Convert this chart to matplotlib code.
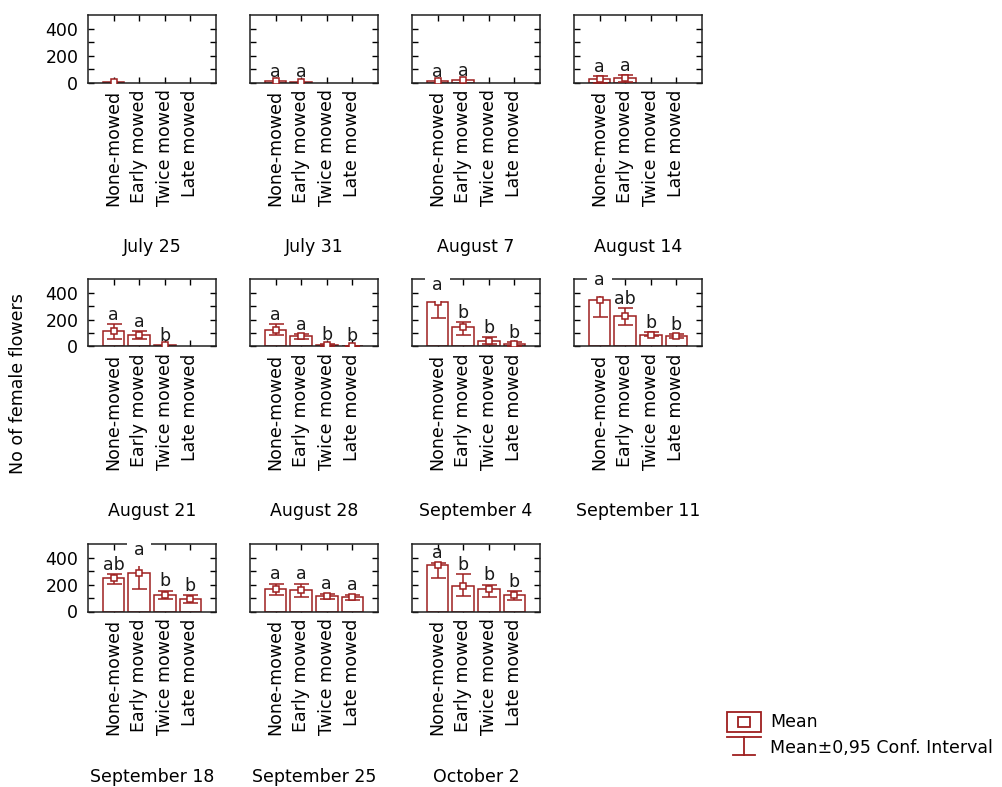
import numpy as np
import matplotlib
matplotlib.use("Agg")
import matplotlib.pyplot as plt
from matplotlib.patches import Rectangle
from matplotlib.lines import Line2D

nan = np.nan

dates = ["July 25", "July 31", "August 7", "August 14",
         "August 21", "August 28", "September 4", "September 11",
         "September 18", "September 25", "October 2"]
treatments = ["None-mowed", "Early mowed", "Twice mowed", "Late mowed"]

# mean number of female flowers, one row per sampling date
means = [
    [5, nan, nan, nan],
    [8, 7, nan, nan],
    [8, 18, nan, nan],
    [25, 30, nan, nan],
    [115, 88, 12, nan],
    [122, 75, 8, 3],
    [330, 144, 43, 18],
    [345, 225, 88, 78],
    [247, 285, 126, 91],
    [171, 159, 116, 108],
    [348, 192, 171, 126],
]
# lower / upper limits of the 95 % confidence interval
ci_low = [
    [nan, nan, nan, nan],
    [nan, nan, nan, nan],
    [nan, nan, nan, nan],
    [0, 5, nan, nan],
    [55, 55, nan, nan],
    [85, 58, 0, 0],
    [210, 83, 18, 5],
    [217, 164, 75, 60],
    [209, 171, 91, 66],
    [121, 108, 91, 83],
    [247, 116, 108, 83],
]
ci_high = [
    [nan, nan, nan, nan],
    [nan, nan, nan, nan],
    [nan, nan, nan, nan],
    [45, 55, nan, nan],
    [170, 118, nan, nan],
    [165, 92, 16, 7],
    [393, 184, 68, 30],
    [428, 285, 105, 93],
    [277, 393, 156, 121],
    [209, 209, 134, 126],
    [366, 277, 202, 154],
]
# homogeneous groups (Tukey letters)
letters = [
    ["", "", "", ""],
    ["a", "a", "", ""],
    ["a", "a", "", ""],
    ["a", "a", "", ""],
    ["a", "a", "b", ""],
    ["a", "a", "b", "b"],
    ["a", "b", "b", "b"],
    ["a", "ab", "b", "b"],
    ["ab", "a", "b", "b"],
    ["a", "a", "a", "a"],
    ["a", "b", "b", "b"],
]

RED = "#9E1F1F"
plt.rcParams["font.family"] = "DejaVu Sans"
plt.rcParams["font.size"] = 12.5

W, H = 1003, 787
fig = plt.figure(figsize=(W / 100, H / 100), dpi=100)

col_x = [88, 250, 412, 574]
row_top = [15, 279, 544]
ax_w, ax_h = 128, 67.5

xpos = np.arange(1, 5)
axes = []
texts = []
for i, date in enumerate(dates):
    r, c = divmod(i, 4)
    left = col_x[c]
    top = row_top[r]
    ax = fig.add_axes([left / W, 1 - (top + ax_h) / H, ax_w / W, ax_h / H])
    axes.append(ax)

    m = np.array(means[i], dtype=float)
    lo = np.array(ci_low[i], dtype=float)
    hi = np.array(ci_high[i], dtype=float)
    ok = np.isfinite(m)
    ax.bar(xpos[ok], m[ok], width=0.85, facecolor="white",
           edgecolor=RED, linewidth=1.1, zorder=2)
    ci_ok = ok & np.isfinite(lo) & np.isfinite(hi)
    if ci_ok.any():
        ax.errorbar(xpos[ci_ok], m[ci_ok],
                    yerr=[m[ci_ok] - lo[ci_ok], hi[ci_ok] - m[ci_ok]],
                    fmt="none", ecolor=RED, elinewidth=1.1,
                    capsize=5.4, capthick=1.1, zorder=3)
    ax.plot(xpos[ok], m[ok], "s", ms=4.8, mfc="white", mec=RED,
            mew=1.1, zorder=4)

    for k in range(4):
        if not letters[i][k]:
            continue
        ref = hi[k] if np.isfinite(hi[k]) else m[k]
        t = ax.annotate(letters[i][k], (xpos[k], ref), xytext=(0, 3),
                        textcoords="offset points", ha="center",
                        va="baseline", color="#1a1a1a", zorder=10,
                        annotation_clip=False)
        texts.append((ax, t))

    ax.set_xlim(0, 5)
    ax.set_ylim(0, 505)
    ax.set_xticks(xpos)
    ax.set_xticklabels(treatments, rotation=90)
    ax.set_yticks([0, 200, 400])
    ax.set_yticks([100, 300], minor=True)
    ax.tick_params(which="both", direction="in", top=True, right=True,
                   length=4, width=1, color="black")
    ax.tick_params(axis="x", pad=5)
    ax.tick_params(axis="y", pad=7)
    if c != 0:
        ax.set_yticklabels([])
    for s in ax.spines.values():
        s.set_linewidth(1.1)
        s.set_color("#202020")

    fig.text((left + ax_w / 2) / W, 1 - (top + ax_h + 165) / H, date,
             ha="center", va="center")

fig.text(18 / W, 1 - 384 / H, "No of female flowers", rotation=90,
         ha="center", va="center")

# letters that reach past the top of a panel get a white background
fig.canvas.draw()
renderer = fig.canvas.get_renderer()
for ax, t in texts:
    tb = t.get_window_extent(renderer)
    ab = ax.get_window_extent(renderer)
    if tb.y1 > ab.y1:
        t.set_bbox(dict(facecolor="white", edgecolor="none", pad=5))

# legend
lax = fig.add_axes([720 / W, 1 - 770 / H, 283 / W, 70 / H])
lax.set_xlim(720, 1003)
lax.set_ylim(770, 700)
lax.axis("off")
lax.add_patch(Rectangle((727, 712), 34, 20, fill=False, ec=RED, lw=1.3))
lax.add_patch(Rectangle((738, 716.5), 12, 10, fill=False, ec=RED, lw=1.3))
lax.add_line(Line2D([727, 761], [737, 737], color=RED, lw=1.3))
lax.add_line(Line2D([744, 744], [737, 755], color=RED, lw=1.3))
lax.add_line(Line2D([733, 755], [755, 755], color=RED, lw=1.3))
lax.text(770, 722, "Mean", va="center", ha="left")
lax.text(770, 748, "Mean\u00b10,95 Conf. Interval", va="center", ha="left")

fig.savefig("out.png", dpi=100)
